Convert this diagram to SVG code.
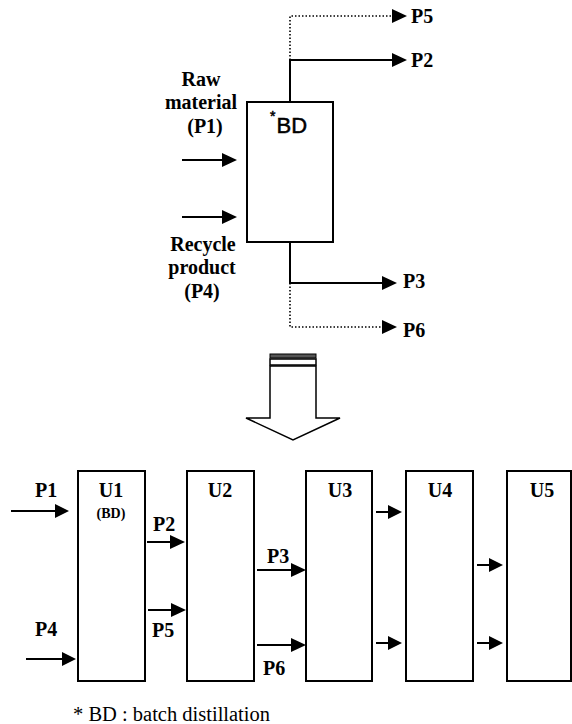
<svg xmlns="http://www.w3.org/2000/svg" width="572" height="724" viewBox="0 0 572 724">
<style>
.box{fill:#fff;stroke:#000;stroke-width:2}
.ln{fill:none;stroke:#000;stroke-width:2}
.dot{fill:none;stroke:#000;stroke-width:1.6;stroke-dasharray:1.5 2}
.lb{font-family:"Liberation Serif","Times New Roman",serif;font-weight:bold;font-size:20px;fill:#000}
.sm{font-family:"Liberation Serif","Times New Roman",serif;font-weight:bold;font-size:14px;fill:#000}
.ft{font-family:"Liberation Serif","Times New Roman",serif;font-size:20.5px;fill:#000}
.bd{font-family:"Liberation Sans",Arial,sans-serif;font-size:22px;fill:#000;stroke:#000;stroke-width:0.5}
.ah{fill:#000}
</style>

<g id="top-bd">
<rect class="box" x="247" y="102" width="86" height="140"/>
<text class="bd" x="270" y="133"><tspan font-size="14" dy="-12">*</tspan><tspan dy="12" dx="1">BD</tspan></text>
</g>

<g id="top-labels">
<text class="lb" x="201" y="86" text-anchor="middle">Raw</text>
<text class="lb" x="201" y="109" text-anchor="middle">material</text>
<text class="lb" x="205" y="133" text-anchor="middle">(P1)</text>
<text class="lb" x="203" y="251" text-anchor="middle">Recycle</text>
<text class="lb" x="202" y="274" text-anchor="middle">product</text>
<text class="lb" x="202" y="298" text-anchor="middle">(P4)</text>
<text class="lb" x="411" y="23">P5</text>
<text class="lb" x="411" y="67">P2</text>
<text class="lb" x="403" y="288">P3</text>
<text class="lb" x="403" y="337">P6</text>
</g>

<g id="top-connectors">
<line class="ln" x1="182" y1="160" x2="224" y2="160"/>
<polygon class="ah" points="222,153 237,160 222,167"/>
<line class="ln" x1="182" y1="217" x2="224" y2="217"/>
<polygon class="ah" points="222,210 237,217 222,224"/>
<polyline class="ln" points="290,102 290,60 394,60"/>
<polygon class="ah" points="392,53 407,60 392,67"/>
<polyline class="dot" points="290,60 290,16 394,16"/>
<polygon class="ah" points="392,9 407,16 392,23"/>
<polyline class="ln" points="290,242 290,283 384,283"/>
<polygon class="ah" points="382,276 397,283 382,290"/>
<polyline class="dot" points="290,283 290,327 384,327"/>
<polygon class="ah" points="382,320 397,327 382,334"/>
</g>

<g id="block-arrow">
<rect x="270" y="354" width="46" height="4" fill="#555" stroke="#000" stroke-width="1"/>
<rect x="270" y="359" width="46" height="6" fill="#fff" stroke="#000" stroke-width="1.5"/>
<polygon points="270,366 270,418 246,418 293,440 340,418 316,418 316,366" fill="#fff" stroke="#000" stroke-width="1.5" stroke-linejoin="miter"/>
</g>

<g id="U1">
<rect class="box" x="78" y="471" width="67" height="210"/>
<text class="lb" x="111" y="497" text-anchor="middle">U1</text>
<text class="sm" x="111" y="518" text-anchor="middle">(BD)</text>
</g>
<g id="U2">
<rect class="box" x="187" y="471" width="67" height="210"/>
<text class="lb" x="220" y="497" text-anchor="middle">U2</text>
</g>
<g id="U3">
<rect class="box" x="306" y="471" width="66" height="210"/>
<text class="lb" x="340" y="497" text-anchor="middle">U3</text>
</g>
<g id="U4">
<rect class="box" x="406" y="471" width="67" height="210"/>
<text class="lb" x="440" y="497" text-anchor="middle">U4</text>
</g>
<g id="U5">
<rect class="box" x="507" y="471" width="64" height="210"/>
<text class="lb" x="542" y="497" text-anchor="middle">U5</text>
</g>

<g id="connectors">
<line class="ln" x1="11" y1="511" x2="57" y2="511"/>
<polygon class="ah" points="55,504 69,511 55,518"/>
<line class="ln" x1="26" y1="659" x2="64" y2="659"/>
<polygon class="ah" points="62,652 76,659 62,666"/>
<line class="ln" x1="147" y1="542" x2="172" y2="542"/>
<polygon class="ah" points="170,535 185,542 170,549"/>
<line class="ln" x1="148" y1="610" x2="173" y2="610"/>
<polygon class="ah" points="171,603 186,610 171,617"/>
<line class="ln" x1="257" y1="570" x2="293" y2="570"/>
<polygon class="ah" points="291,563 306,570 291,577"/>
<line class="ln" x1="257" y1="645" x2="293" y2="645"/>
<polygon class="ah" points="291,638 306,645 291,652"/>
<line class="ln" x1="376" y1="512" x2="390" y2="512"/>
<polygon class="ah" points="388,505 402,512 388,519"/>
<line class="ln" x1="376" y1="643" x2="390" y2="643"/>
<polygon class="ah" points="388,636 402,643 388,650"/>
<line class="ln" x1="477" y1="565" x2="491" y2="565"/>
<polygon class="ah" points="489,558 503,565 489,572"/>
<line class="ln" x1="477" y1="643" x2="491" y2="643"/>
<polygon class="ah" points="489,636 503,643 489,650"/>
</g>

<g id="labels">
<text class="lb" x="35" y="497">P1</text>
<text class="lb" x="35" y="636">P4</text>
<text class="lb" x="153" y="531">P2</text>
<text class="lb" x="152" y="637">P5</text>
<text class="lb" x="267" y="563">P3</text>
<text class="lb" x="263" y="675">P6</text>
</g>

<text class="ft" x="73" y="721">* BD : batch distillation</text>
</svg>
